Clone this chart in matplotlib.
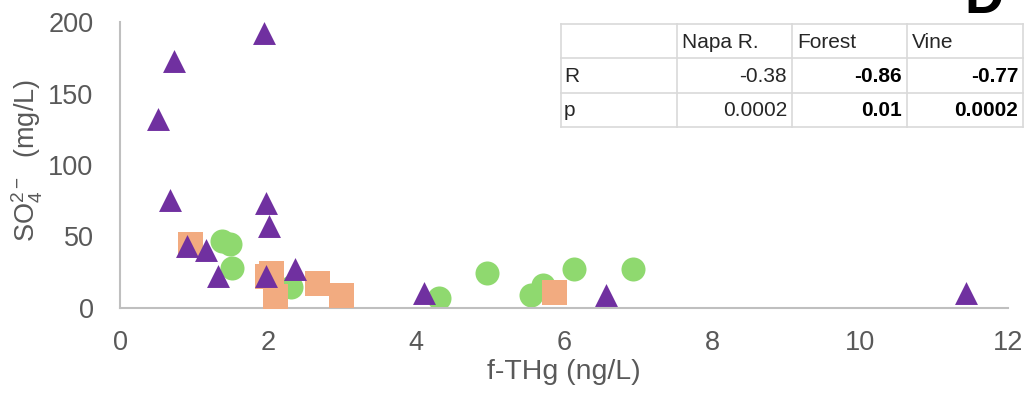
import matplotlib
matplotlib.use("Agg")
import matplotlib.pyplot as plt
from matplotlib.lines import Line2D

plt.rcParams['font.family'] = ['Liberation Sans', 'DejaVu Sans']
plt.rcParams['mathtext.default'] = 'regular'

# ---- data ----
forest_x = [1.38, 1.49, 1.52, 2.31, 4.31, 4.96, 5.55, 5.71, 6.14, 6.93]
forest_y = [46.8, 44.5, 28.2, 15.0, 7.2, 24.2, 9.1, 16.0, 27.3, 27.3]

napa_x = [0.95, 1.99, 2.04, 2.10, 2.66, 2.98, 5.86]
napa_y = [44.5, 22.2, 24.8, 8.7, 17.3, 8.9, 11.0]

vine_x = [0.52, 0.67, 0.73, 0.90, 1.16, 1.33, 1.95, 1.97, 1.97, 2.01, 2.36, 4.11, 6.57, 11.43]
vine_y = [132, 75.5, 173, 43.6, 40.6, 22.4, 192, 73.6, 22.4, 57.6, 27.5, 10.7, 9.1, 10.3]

x_ticks = [0, 2, 4, 6, 8, 10, 12]
y_ticks = [0, 50, 100, 150, 200]

table_cols = ["", "Napa R.", "Forest", "Vine"]
table_rows = ["R", "p"]
table_vals = [["-0.38", "-0.86", "-0.77"],
              ["0.0002", "0.01", "0.0002"]]
table_bold = [[False, True, True],
              [False, True, True]]

# ---- figure ----
W, H = 1029, 404
fig = plt.figure(figsize=(W / 100, H / 100), dpi=100)
ax = fig.add_axes([120 / W, (H - 308) / H, (1008 - 120) / W, (308 - 22) / H])

ax.scatter(forest_x, forest_y, marker='o', s=17.3**2, color='#8FD96F', linewidths=0, zorder=2)
ax.scatter(napa_x, napa_y, marker='s', s=18**2, color='#F2AB80', linewidths=0, zorder=3)
ax.scatter(vine_x, vine_y, marker='^', s=16.5**2, color='#7030A0', linewidths=0, zorder=4)

ax.set_xlim(0, 12)
ax.set_ylim(0, 200)
ax.set_xticks(x_ticks)
ax.set_yticks(y_ticks)
ax.tick_params(length=0, labelsize=19.5, labelcolor='#595959')
ax.tick_params(axis='x', pad=16)
ax.tick_params(axis='y', pad=19)
for s in ['top', 'right']:
    ax.spines[s].set_visible(False)
for s in ['left', 'bottom']:
    ax.spines[s].set_color('#BFBFBF')
    ax.spines[s].set_linewidth(1.5)

ax.set_xlabel("f-THg (ng/L)", fontsize=20.5, color='#595959', labelpad=2)
fig.text(27 / W, (H - 160) / H, r"SO$_4^{2-}$  (mg/L)", rotation=90,
         ha='center', va='center', fontsize=19.5, color='#595959')

# ---- table ----
def fx(px):
    return px / W

def fy(py):
    return (H - py) / H

col_edges = [561, 677, 792, 907, 1023]
row_edges = [24, 58, 93, 127]
lc = '#D9D9D9'
for xe in col_edges:
    fig.add_artist(Line2D([fx(xe), fx(xe)], [fy(row_edges[0]), fy(row_edges[-1])],
                          color=lc, lw=1.2, transform=fig.transFigure))
for ye in row_edges:
    fig.add_artist(Line2D([fx(col_edges[0]), fx(col_edges[-1])], [fy(ye), fy(ye)],
                          color=lc, lw=1.2, transform=fig.transFigure))

tfs = 15
for j, name in enumerate(table_cols):
    if name:
        yc = (row_edges[0] + row_edges[1]) / 2 + 1
        fig.text(fx(col_edges[j] + 5), fy(yc), name, ha='left', va='center',
                 fontsize=tfs, color='#262626')
for i, rname in enumerate(table_rows):
    yc = (row_edges[i + 1] + row_edges[i + 2]) / 2 + 1
    fig.text(fx(col_edges[0] + 3), fy(yc), rname, ha='left', va='center',
             fontsize=tfs, color='#262626')
    for j, v in enumerate(table_vals[i]):
        fig.text(fx(col_edges[j + 2] - 5), fy(yc), v, ha='right', va='center',
                 fontsize=tfs, color='#000000' if table_bold[i][j] else '#262626',
                 fontweight='bold' if table_bold[i][j] else 'normal')

# panel label (clipped at top, as in the reference)
fig.text(fx(964), fy(12.7), "D", ha='left', va='baseline', fontsize=39,
         fontweight='bold', color='black')

fig.savefig("out.png", dpi=100)
